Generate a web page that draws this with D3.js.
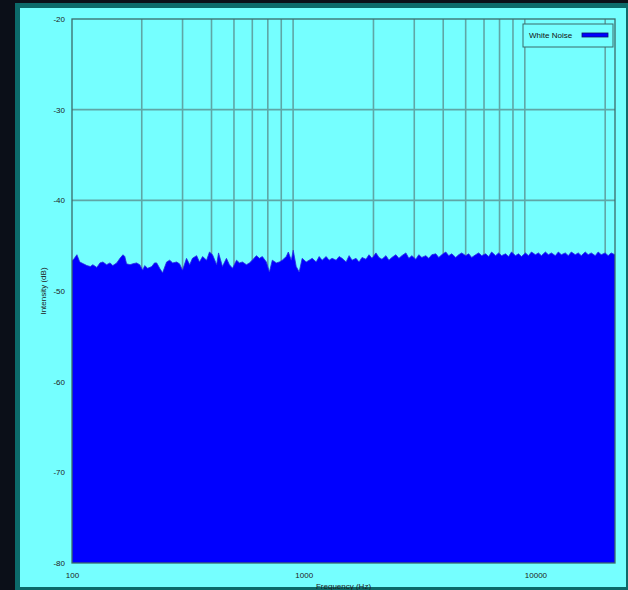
<!DOCTYPE html>
<html>
<head>
<meta charset="utf-8">
<script src="https://cdn.jsdelivr.net/npm/d3@7/dist/d3.min.js"></script>
<style>
  html, body { margin: 0; padding: 0; background: #0b0f18; }
  #chart { width: 628px; height: 590px; }
  .tick text { font-family: "Liberation Sans", Arial, sans-serif; font-size: 8px; fill: #222; }
</style>
</head>
<body>
<div id="chart"></div>
<script>
// spectrum: frequency (Hz) and level (dB)
var freqs = [100, 101, 105, 108, 112, 116, 120, 123, 128, 132, 136, 141, 146, 150, 156, 161, 166, 169, 172, 178,
  183, 190, 196, 202, 206, 212, 221, 227, 232, 239, 246, 256, 264, 272, 283, 291, 300, 312, 322, 331,
  345, 355, 366, 381, 392, 404, 421, 429, 446, 464, 478, 493, 513, 528, 544, 566, 583, 600, 625, 644,
  663, 690, 711, 732, 762, 785, 808, 841, 858, 884, 901, 928, 956, 985, 1025, 1056, 1088, 1132, 1166, 1201,
  1250, 1287, 1326, 1380, 1422, 1464, 1524, 1570, 1617, 1682, 1733, 1785, 1857, 1913, 1971, 2050, 2112, 2176, 2264, 2332,
  2402, 2499, 2575, 2653, 2760, 2843, 2929, 3047, 3139, 3234, 3364, 3466, 3571, 3715, 3827, 3943, 4102, 4226, 4354, 4529,
  4666, 4807, 5001, 5152, 5308, 5522, 5689, 5861, 6097, 6282, 6472, 6732, 6936, 7146, 7430, 7655, 7886, 8204, 8452, 8708,
  9058, 9331, 9612, 10000, 10302, 10613, 11041, 11374, 11718, 12190, 12558, 12937, 13458, 13865, 14283, 14859, 15307, 15770, 16406, 16902,
  17412, 18114, 18661, 19225, 20000, 20606, 21228, 22050];
var levels = [-46.6, -46.6, -46.0, -46.8, -47.0, -47.2, -47.3, -47.1, -47.4, -46.9, -46.8, -47.1, -46.9, -47.2, -46.9, -46.4, -46.0, -46.2, -47.0, -47.1,
  -47.0, -46.9, -47.1, -47.7, -47.2, -47.5, -47.3, -46.9, -46.9, -47.5, -48.0, -46.8, -46.6, -46.9, -46.8, -47.0, -47.7, -46.4, -47.1, -46.4,
  -46.1, -46.8, -46.2, -46.6, -45.7, -46.0, -47.1, -45.8, -47.3, -46.4, -47.1, -47.5, -46.6, -46.9, -46.8, -47.1, -46.9, -46.6, -46.1, -46.4,
  -46.2, -46.8, -47.9, -46.6, -46.9, -46.8, -46.6, -46.2, -45.7, -46.6, -45.5, -47.3, -47.9, -46.4, -46.8, -46.6, -46.4, -46.8, -46.2, -46.6,
  -46.2, -46.6, -46.4, -46.6, -46.2, -46.4, -46.8, -46.1, -46.6, -46.4, -46.8, -46.3, -46.5, -46.0, -46.4, -45.8, -46.3, -46.5, -46.1, -46.6,
  -46.3, -46.0, -46.4, -46.1, -45.8, -46.4, -46.1, -46.5, -46.0, -46.3, -46.1, -46.4, -46.0, -45.9, -46.3, -46.0, -45.7, -46.1, -45.9, -46.3,
  -46.0, -45.8, -46.1, -45.9, -46.3, -46.0, -45.8, -46.1, -45.9, -46.2, -45.7, -46.1, -45.8, -46.1, -45.9, -46.2, -45.7, -46.1, -45.9, -46.2,
  -45.8, -46.1, -45.7, -46.0, -45.8, -46.1, -45.7, -46.0, -45.8, -46.1, -45.7, -46.0, -45.8, -46.1, -45.7, -46.0, -45.8, -46.1, -45.7, -46.0,
  -45.8, -46.1, -45.7, -46.0, -45.8, -46.1, -45.8, -46.0];
var xTicks = [100, 1000, 10000];
var xGrid = [200, 300, 400, 500, 600, 700, 800, 900, 2000, 3000, 4000, 5000, 6000, 7000, 8000, 9000, 20000];
var yTicks = [-20, -30, -40, -50, -60, -70, -80];
var seriesName = 'White Noise';

var dataset = freqs.map(function(f, i){ return { x: f, y: levels[i] }; });

var width = 628, height = 590;
var padding = { top: 19, right: 13, bottom: 27, left: 72 };
var innerW = width - padding.left - padding.right;
var innerH = height - padding.top - padding.bottom;

var svg = d3.select('#chart').append('svg')
  .attr('width', width)
  .attr('height', height);

// frame: dark page, teal border, cyan panel
svg.append('rect').attr('width', width).attr('height', height).attr('fill', '#0b0f18');
svg.append('rect').attr('x', 15).attr('y', 3).attr('width', width - 15).attr('height', height - 3).attr('fill', '#0c6a6a');
svg.append('rect').attr('x', 20).attr('y', 8).attr('width', width - 22).attr('height', height - 11).attr('fill', '#75ffff');

var xScale = d3.scaleLog()
  .domain([100, 22050])
  .range([0, innerW]);
var yScale = d3.scaleLinear()
  .domain([-80, -20])
  .range([innerH, 0]);

var g = svg.append('g')
  .attr('transform', 'translate(' + padding.left + ',' + padding.top + ')');

// grid
g.append('g').selectAll('line')
  .data(xGrid)
  .enter().append('line')
  .attr('x1', function(d){ return xScale(d); })
  .attr('x2', function(d){ return xScale(d); })
  .attr('y1', 0).attr('y2', innerH)
  .attr('stroke', '#5fa6a6').attr('stroke-width', 1.6);
g.append('g').selectAll('line')
  .data(yTicks.slice(1, -1))
  .enter().append('line')
  .attr('x1', 0).attr('x2', innerW)
  .attr('y1', function(d){ return yScale(d); })
  .attr('y2', function(d){ return yScale(d); })
  .attr('stroke', '#5fa6a6').attr('stroke-width', 1.6);

// spectrum area
var area = d3.area()
  .x(function(d){ return xScale(d.x); })
  .y0(innerH)
  .y1(function(d){ return yScale(d.y); });
g.append('path')
  .attr('d', area(dataset))
  .attr('fill', '#0000ff');
var line = d3.line()
  .x(function(d){ return xScale(d.x); })
  .y(function(d){ return yScale(d.y); });
g.append('path')
  .attr('d', line(dataset))
  .attr('fill', 'none')
  .attr('stroke', '#2a2ae0')
  .attr('stroke-opacity', 0.8)
  .attr('stroke-width', 1);

// plot border
g.append('rect')
  .attr('width', innerW).attr('height', innerH)
  .attr('fill', 'none')
  .attr('stroke', '#3a6a6a').attr('stroke-width', 1.3);

// axes
var xAxis = d3.axisBottom(xScale)
  .tickValues(xTicks)
  .tickFormat(function(d){ return String(d); })
  .tickSize(0)
  .tickPadding(9);
var yAxis = d3.axisLeft(yScale)
  .tickValues(yTicks)
  .tickFormat(function(d){ return String(d); })
  .tickSize(0)
  .tickPadding(7);
var gx = g.append('g').attr('transform', 'translate(0,' + innerH + ')').call(xAxis);
var gy = g.append('g').call(yAxis);
gx.select('.domain').remove();
gy.select('.domain').remove();

svg.append('text')
  .attr('x', padding.left + innerW * 0.5)
  .attr('y', 589)
  .attr('text-anchor', 'middle')
  .attr('font-family', 'Liberation Sans, Arial, sans-serif')
  .attr('font-size', 8)
  .attr('fill', '#222')
  .text('Frequency (Hz)');
svg.append('text')
  .attr('transform', 'translate(46,' + (padding.top + innerH / 2) + ') rotate(-90)')
  .attr('text-anchor', 'middle')
  .attr('font-family', 'Liberation Sans, Arial, sans-serif')
  .attr('font-size', 8)
  .attr('fill', '#222')
  .text('Intensity (dB)');

// legend
var legend = svg.append('g').attr('transform', 'translate(523,24)');
legend.append('rect')
  .attr('width', 90).attr('height', 23)
  .attr('fill', '#75ffff')
  .attr('stroke', '#3a6a6a').attr('stroke-width', 1);
legend.append('text')
  .attr('x', 6).attr('y', 14)
  .attr('font-family', 'Liberation Sans, Arial, sans-serif')
  .attr('font-size', 8)
  .attr('fill', '#111')
  .text(seriesName);
legend.append('rect')
  .attr('x', 59).attr('y', 9)
  .attr('width', 26).attr('height', 4)
  .attr('fill', '#0000ff')
  .attr('stroke', '#10106a').attr('stroke-width', 0.8);
</script>
</body>
</html>
